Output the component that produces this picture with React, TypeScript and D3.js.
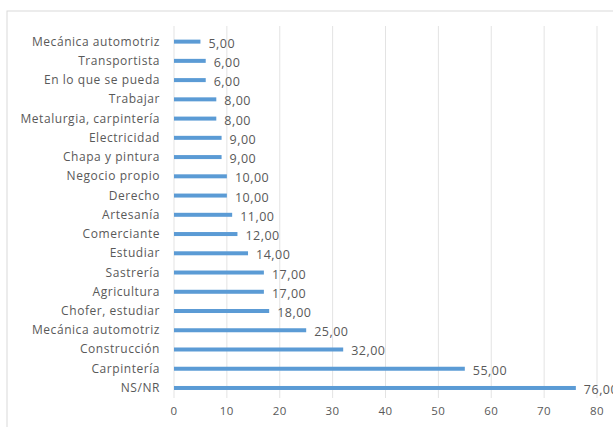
import React from "react";
import * as d3 from "d3";

const categories = [
  "Mecánica automotriz",
  "Transportista",
  "En lo que se pueda",
  "Trabajar",
  "Metalurgia, carpintería",
  "Electricidad",
  "Chapa y pintura",
  "Negocio propio",
  "Derecho",
  "Artesanía",
  "Comerciante",
  "Estudiar",
  "Sastrería",
  "Agricultura",
  "Chofer, estudiar",
  "Mecánica automotriz ",
  "Construcción",
  "Carpintería",
  "NS/NR",
];
const values = [5, 6, 6, 8, 8, 9, 9, 10, 10, 11, 12, 14, 17, 17, 18, 25, 32, 55, 76];
const xTicks = [0, 10, 20, 30, 40, 50, 60, 70, 80];

const W = 613;
const H = 427;
const font = "'Open Sans', Lato, sans-serif";
const textColor = "#595959";

export default function App() {
  const x = d3.scaleLinear().domain([0, 80]).range([174, 597]);
  const y = d3.scaleBand<string>().domain(categories).range([32, 397.6]);
  const fmt = (v: number) => v.toFixed(2).replace(".", ",");
  return (
    <svg
      width={W}
      height={H}
      style={{ position: "absolute", left: 0, top: 0, background: "#fff" }}
      fontFamily={font}
    >
      <rect x={7} y={11} width={W} height={H} fill="#fff" stroke="#d9d9d9" strokeWidth={1} />
      {xTicks.map((t) => (
        <line key={t} x1={x(t)} x2={x(t)} y1={26} y2={398} stroke="#e3e3e3" strokeWidth={1} />
      ))}
      {xTicks.map((t) => (
        <text key={"t" + t} x={x(t)} y={415} textAnchor="middle" fontSize={11.5} letterSpacing={0.5} fill={textColor}>
          {t}
        </text>
      ))}
      {categories.map((c, i) => {
        const cy = (y(c) as number) + y.bandwidth() / 2;
        return (
          <g key={i}>
            <rect x={x(0)} y={cy - 2} width={x(values[i]) - x(0)} height={4} fill="#5b9bd5" />
            <text x={160} y={cy + 4} textAnchor="end" fontSize={12} letterSpacing={0.55} fill={textColor}>
              {c.trim()}
            </text>
            <text x={x(values[i]) + 8} y={cy + 6} fontSize={12.5} letterSpacing={0.5} fill={textColor}>
              {fmt(values[i])}
            </text>
          </g>
        );
      })}
    </svg>
  );
}
